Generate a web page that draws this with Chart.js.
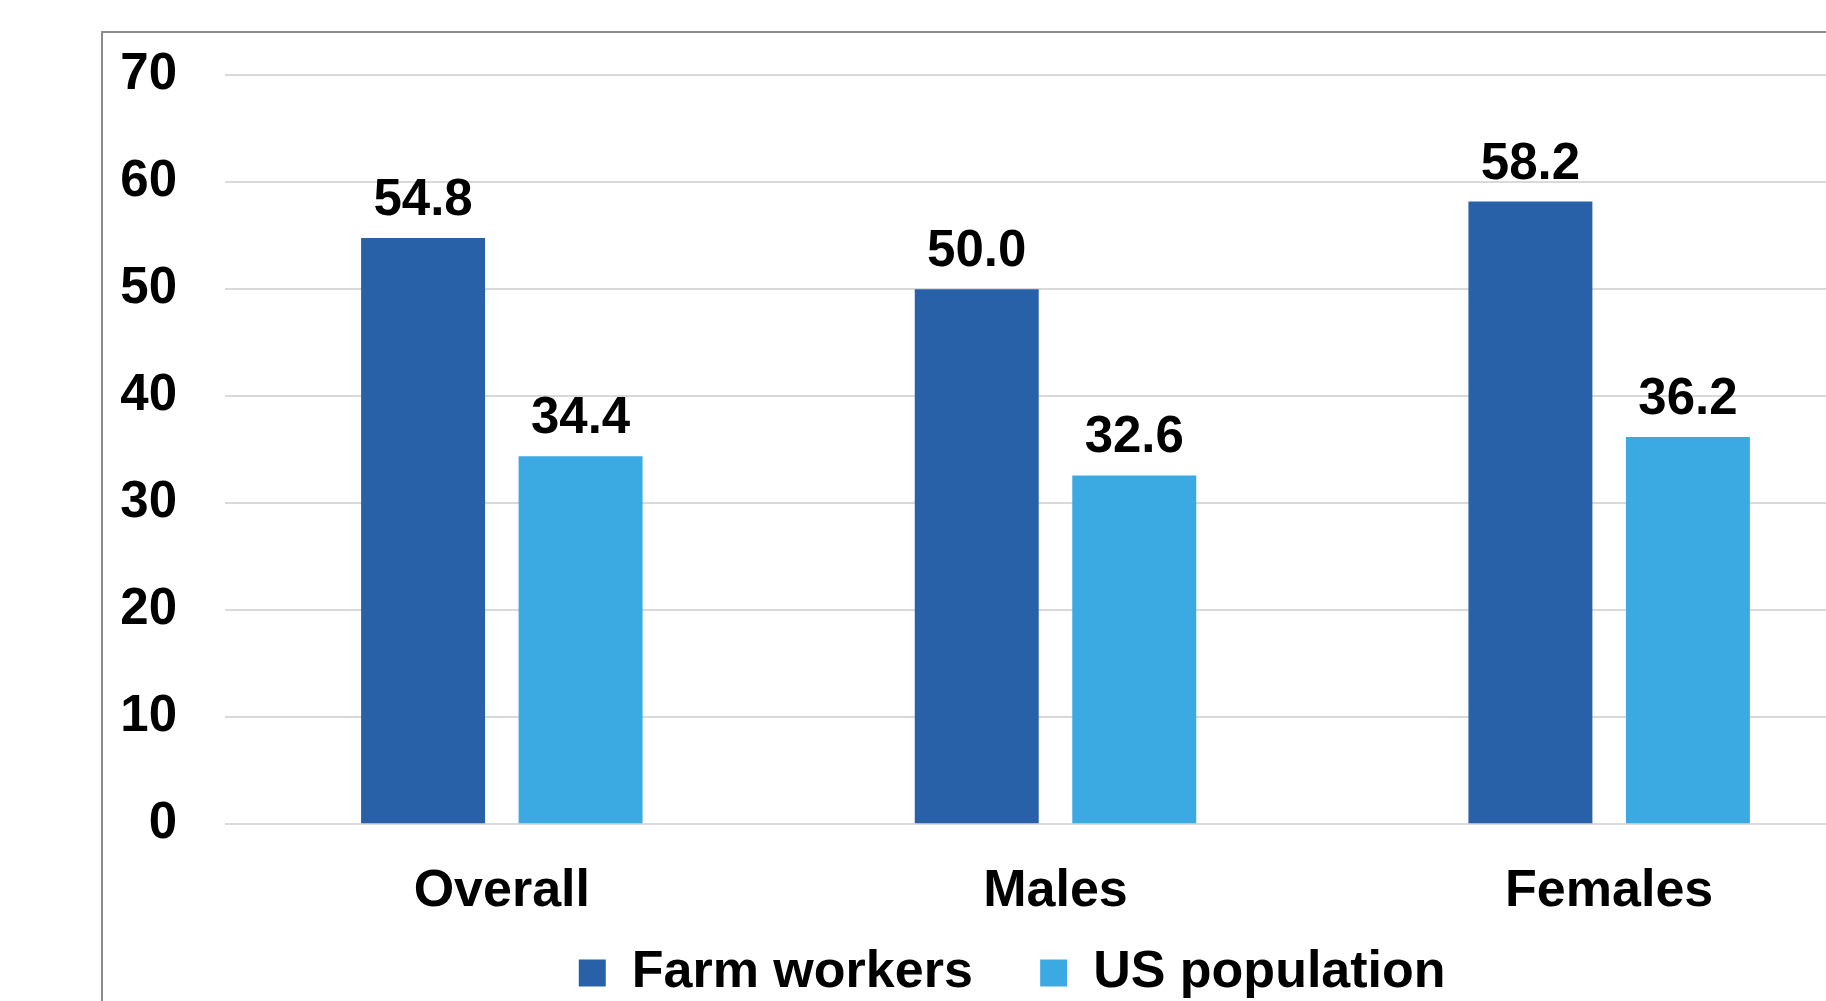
<!DOCTYPE html>
<html>
<head>
<meta charset="utf-8">
<script src="https://cdn.jsdelivr.net/npm/chart.js@4.4.1/dist/chart.umd.min.js"></script>
<style>
    html, body { margin: 0; padding: 0; background: #fff; overflow: hidden; }
    body { width: 1826px; height: 1001px; position: relative; }
    #marco { position: absolute; left: 101px; top: 31px; width: 3000px; height: 3000px; border: 2px solid #8c8c8c; }
    #grafico { position: absolute; left: 0; top: 0; }
</style>
</head>
<body>
<div id="marco"></div>
<canvas id="grafico" width="2000" height="1010" style="width:2000px;height:1010px"></canvas>
<script>
const categorias = ['Overall', 'Males', 'Females'];
const trabajadoresAgricolas = [54.8, 50.0, 58.2];
const poblacionUS = [34.4, 32.6, 36.2];
const nombresSeries = ['Farm workers', 'US population'];
const ejeY = { min: 0, max: 70, paso: 10 };

const fuente = '"Liberation Sans", Arial, sans-serif';
Chart.defaults.font.family = fuente;
Chart.defaults.color = '#000';

// Etiquetas con el valor encima de cada barra
const etiquetasValores = {
    id: 'etiquetasValores',
    afterDatasetsDraw(chart) {
        const ctx = chart.ctx;
        ctx.save();
        ctx.font = 'bold 51px ' + fuente;
        ctx.fillStyle = '#000';
        ctx.textAlign = 'center';
        ctx.textBaseline = 'alphabetic';
        chart.data.datasets.forEach((ds, i) => {
            chart.getDatasetMeta(i).data.forEach((barra, j) => {
                ctx.fillText(ds.data[j].toFixed(1), barra.x, barra.y - 23);
            });
        });
        ctx.restore();
    }
};

const ctx = document.getElementById('grafico').getContext('2d');

new Chart(ctx, {
    type: 'bar',
    data: {
        labels: categorias,
        datasets: [{
            label: nombresSeries[0],
            data: trabajadoresAgricolas,
            backgroundColor: '#2961a9',
            borderWidth: 0,
            barPercentage: 0.787,
            categoryPercentage: 0.569
        }, {
            label: nombresSeries[1],
            data: poblacionUS,
            backgroundColor: '#3ba9e2',
            borderWidth: 0,
            barPercentage: 0.787,
            categoryPercentage: 0.569
        }]
    },
    options: {
        responsive: false,
        animation: false,
        devicePixelRatio: 1,
        layout: { padding: { left: 118, right: 114, top: 70, bottom: 1 } },
        plugins: {
            tooltip: { enabled: false },
            legend: {
                position: 'bottom',
                fullSize: false,
                labels: {
                    boxWidth: 27,
                    boxHeight: 27,
                    padding: 24,
                    color: '#000',
                    font: { size: 52, weight: 'bold' },
                    generateLabels(chart) {
                        const items = Chart.defaults.plugins.legend.labels.generateLabels(chart);
                        // espacios para ajustar separación y centrado de la leyenda
                        items.forEach((it, i) => { it.text += (i < items.length - 1) ? '   ' : '      '; });
                        return items;
                    }
                }
            }
        },
        scales: {
            x: {
                afterFit(scale) { scale.height = 98.7; },
                grid: { display: false, drawTicks: false },
                border: { display: false },
                ticks: { padding: 36, color: '#000', font: { size: 52, weight: 'bold' } }
            },
            y: {
                min: ejeY.min,
                max: ejeY.max,
                afterFit(scale) { scale.width = 107; },
                grid: { color: '#d9d9d9', lineWidth: 2, drawTicks: false },
                border: { display: false },
                ticks: { stepSize: ejeY.paso, padding: 48, color: '#000', font: { size: 51, weight: 'bold', lineHeight: 1.07 } }
            }
        }
    },
    plugins: [etiquetasValores]
});
</script>
</body>
</html>
